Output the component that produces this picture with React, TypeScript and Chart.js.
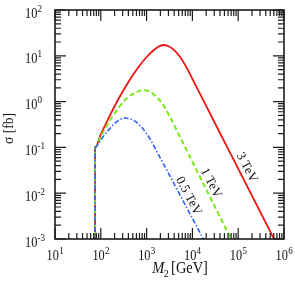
import React, { useEffect, useRef } from "react";
import { Chart, registerables } from "chart.js";

Chart.register(...registerables);

// M2 [GeV] versus cross section sigma [fb]
const massAt3TeV = [75, 75, 101, 144, 204, 290, 434, 649, 970, 1379, 1774, 2281, 2933, 3771, 5362, 7622, 11400, 17035, 66220, 575300, 1000000];
const sigmaAt3TeV = [0.0005, 0.1, 0.198, 0.413, 0.822, 1.556, 3.04, 5.5, 9.07, 12.86, 15.56, 17.2, 16.4, 14.0, 9.51, 5.31, 2.41, 1.1, 0.0766, 0.00111, 0.000373];

const massAt1TeV = [75, 75, 101, 144, 176, 338, 558, 835, 1186, 1774, 2522, 3243, 6234, 66220, 140800];
const sigmaAt1TeV = [0.0005, 0.1, 0.177, 0.332, 0.461, 1.084, 1.541, 1.792, 1.637, 1.181, 0.729, 0.461, 0.125, 0.00111, 0.000245];

const massAt05TeV = [75, 75, 101, 144, 220, 338, 505, 649, 1020, 1312, 1525, 3243, 16200, 40060];
const sigmaAt05TeV = [0.0005, 0.1, 0.149, 0.234, 0.359, 0.438, 0.395, 0.331, 0.195, 0.129, 0.097, 0.0235, 0.00114, 0.00021];

const seriesNames = ["3 TeV", "1 TeV", "0.5 TeV"];
// where each curve name sits (data coordinates)
const nameMass = [153300, 25480, 8220];
const nameSigma = [0.0364, 0.0167, 0.00869];

const xTickExponents = [1, 2, 3, 4, 5, 6];
const yTickExponents = [-3, -2, -1, 0, 1, 2];

const xTitleSymbol = "M";
const xTitleSub = "2";
const xTitleUnit = "[GeV]";
const yTitle = "σ [fb]";

const SERIF = '"Liberation Serif", "Times New Roman", serif';

function textScaled(ctx: CanvasRenderingContext2D, text: string, x: number, y: number, font: string, sx: number) {
  ctx.save();
  ctx.font = font;
  ctx.translate(x, y);
  ctx.scale(sx, 1);
  ctx.textAlign = "left";
  ctx.textBaseline = "alphabetic";
  ctx.fillText(text, 0, 0);
  ctx.restore();
}

function widthOf(ctx: CanvasRenderingContext2D, text: string, font: string, sx: number) {
  ctx.save();
  ctx.font = font;
  const w = ctx.measureText(text).width * sx;
  ctx.restore();
  return w;
}

const SX = 0.82;
const BASE_FONT = `15px ${SERIF}`;
const SUP_FONT = `11px ${SERIF}`;

function powerLabel(ctx: CanvasRenderingContext2D, exp: number, x: number, y: number, align: "left" | "center") {
  const base = "10";
  const sup = exp < 0 ? "-" + Math.abs(exp) : String(exp);
  const wb = widthOf(ctx, base, BASE_FONT, SX);
  const we = widthOf(ctx, sup, SUP_FONT, SX);
  const x0 = align === "center" ? x - (wb + we) / 2 : x;
  textScaled(ctx, base, x0, y, BASE_FONT, SX);
  textScaled(ctx, sup, x0 + wb + 0.3, y - 6, SUP_FONT, SX);
}

const framePlugin = {
  id: "frameAndLabels",
  afterDatasetsDraw(chart: any) {
    const { ctx, chartArea: a, scales } = chart;
    const xs = scales.x;
    const ys = scales.y;
    ctx.save();
    ctx.strokeStyle = "#1c1c1c";
    ctx.fillStyle = "#111";
    const major = 11;
    const minor = 6;

    ctx.lineWidth = 1.2;
    ctx.beginPath();
    const xFirst = xTickExponents[0];
    const xLast = xTickExponents[xTickExponents.length - 1];
    for (let e = xFirst; e <= xLast; e++) {
      for (let m = 1; m <= 9; m++) {
        if (e === xLast && m > 1) break;
        const px = xs.getPixelForValue(m * Math.pow(10, e));
        const len = m === 1 ? major : minor;
        ctx.moveTo(px, a.bottom);
        ctx.lineTo(px, a.bottom - len);
        ctx.moveTo(px, a.top);
        ctx.lineTo(px, a.top + len);
      }
    }
    const yFirst = yTickExponents[0];
    const yLast = yTickExponents[yTickExponents.length - 1];
    for (let e = yFirst; e <= yLast; e++) {
      for (let m = 1; m <= 9; m++) {
        if (e === yLast && m > 1) break;
        const py = ys.getPixelForValue(m * Math.pow(10, e));
        const len = m === 1 ? major : minor;
        ctx.moveTo(a.left, py);
        ctx.lineTo(a.left + len, py);
        ctx.moveTo(a.right, py);
        ctx.lineTo(a.right - len, py);
      }
    }
    ctx.stroke();

    ctx.lineWidth = 1.6;
    ctx.strokeRect(a.left, a.top, a.right - a.left, a.bottom - a.top);

    // tick labels
    xTickExponents.forEach((e) => {
      const px = xs.getPixelForValue(Math.pow(10, e));
      powerLabel(ctx, e, px, a.bottom + 21, "center");
    });
    yTickExponents.forEach((e) => {
      const py = ys.getPixelForValue(Math.pow(10, e));
      powerLabel(ctx, e, 25, py + 7.5, "left");
    });

    // x title
    const tFont = `italic 16px ${SERIF}`;
    const uFont = `16px ${SERIF}`;
    const sFont = `11px ${SERIF}`;
    const sx2 = 0.9;
    const wM = widthOf(ctx, xTitleSymbol, tFont, sx2);
    const wS = widthOf(ctx, xTitleSub, sFont, sx2);
    const wU = widthOf(ctx, xTitleUnit, uFont, sx2);
    const total = wM + wS + 2 + wU;
    const cx = 180;
    const x0 = cx - total / 2;
    const by = a.bottom + 34;
    textScaled(ctx, xTitleSymbol, x0, by, tFont, sx2);
    textScaled(ctx, xTitleSub, x0 + wM - 0.5, by + 3.5, sFont, sx2);
    textScaled(ctx, xTitleUnit, x0 + wM + wS + 2, by, uFont, sx2);

    // y title
    ctx.save();
    ctx.translate(13, (a.top + a.bottom) / 2 + 4);
    ctx.rotate(-Math.PI / 2);
    ctx.scale(0.9, 1);
    ctx.font = `15px ${SERIF}`;
    ctx.textAlign = "center";
    ctx.textBaseline = "alphabetic";
    ctx.fillText(yTitle, 0, 0);
    ctx.restore();

    // curve names
    seriesNames.forEach((name, i) => {
      const px = xs.getPixelForValue(nameMass[i]);
      const py = ys.getPixelForValue(nameSigma[i]);
      ctx.save();
      ctx.translate(px, py);
      ctx.rotate((62 * Math.PI) / 180);
      ctx.font = `13px ${SERIF}`;
      ctx.textAlign = "center";
      ctx.textBaseline = "middle";
      ctx.fillText(name, 0, 0);
      ctx.restore();
    });

    ctx.restore();
  },
};

function toPoints(xsArr: number[], ysArr: number[]) {
  return xsArr.map((x, i) => ({ x, y: ysArr[i] }));
}

export default function App() {
  const ref = useRef<HTMLCanvasElement | null>(null);
  useEffect(() => {
    if (!ref.current) return;
    const chart = new Chart(ref.current, {
      type: "line",
      data: {
        datasets: [
          {
            label: seriesNames[2],
            data: toPoints(massAt05TeV, sigmaAt05TeV),
            borderColor: "#2f62ee",
            borderWidth: 1.6,
            borderDash: [5, 2, 1.5, 2],
            pointRadius: 0,
            cubicInterpolationMode: "monotone",
            fill: false,
          },
          {
            label: seriesNames[1],
            data: toPoints(massAt1TeV, sigmaAt1TeV),
            borderColor: "#77e81a",
            borderWidth: 2,
            borderDash: [5, 3],
            pointRadius: 0,
            cubicInterpolationMode: "monotone",
            fill: false,
          },
          {
            label: seriesNames[0],
            data: toPoints(massAt3TeV, sigmaAt3TeV),
            borderColor: "#f01414",
            borderWidth: 1.8,
            pointRadius: 0,
            cubicInterpolationMode: "monotone",
            fill: false,
          },
        ],
      },
      options: {
        animation: false,
        responsive: false,
        devicePixelRatio: 1,
        layout: { padding: { left: 55, right: 11, top: 10, bottom: 46 } },
        plugins: { legend: { display: false }, tooltip: { enabled: false } },
        scales: {
          x: { type: "logarithmic", min: 10, max: 1e6, display: false },
          y: { type: "logarithmic", min: 1e-3, max: 100, display: false },
        },
      },
      plugins: [framePlugin],
    } as any);
    return () => chart.destroy();
  }, []);
  return (
    <div style={{ position: "absolute", left: 0, top: 0, width: 295, height: 285, background: "#fff" }}>
      <canvas ref={ref} width={295} height={285} style={{ width: 295, height: 285, display: "block" }} />
    </div>
  );
}
